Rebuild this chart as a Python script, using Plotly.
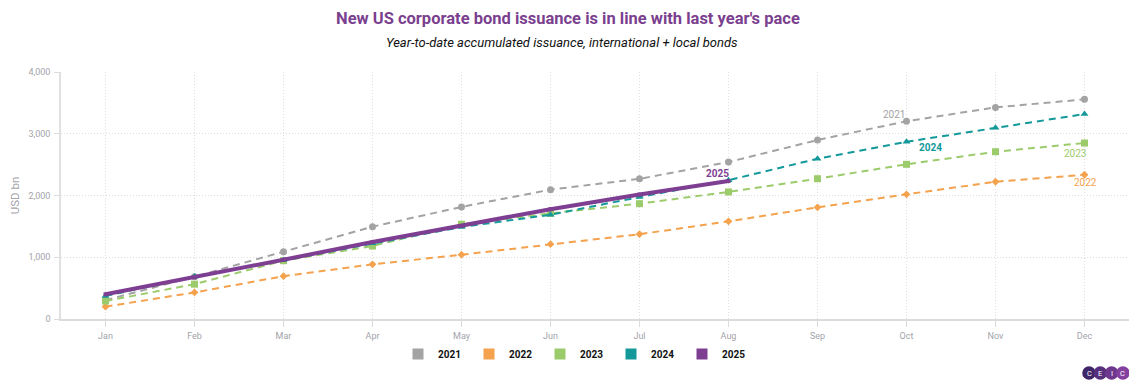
import plotly.graph_objects as go

months = ["Jan", "Feb", "Mar", "Apr", "May", "Jun", "Jul", "Aug", "Sep", "Oct", "Nov", "Dec"]
y2021 = [305, 685, 1090, 1495, 1815, 2095, 2270, 2542, 2898, 3203, 3427, 3557]
y2022 = [200, 430, 694, 885, 1041, 1211, 1373, 1581, 1808, 2019, 2223, 2336]
y2023 = [290, 564, 944, 1182, 1535, 1711, 1868, 2058, 2272, 2505, 2709, 2850]
y2024 = [372, 690, 950, 1225, 1490, 1688, 1975, 2248, 2595, 2870, 3097, 3319]
y2025 = [400, 675, 960, 1248, 1506, 1778, 2015, 2235]

years = ["2021", "2022", "2023", "2024", "2025"]
colors = {"2021": "#a3a3a3", "2022": "#f4a24d", "2023": "#9ccb6b",
          "2024": "#14999a", "2025": "#7e3f93"}
series = {"2021": y2021, "2022": y2022, "2023": y2023, "2024": y2024, "2025": y2025}
symbols = {"2021": "circle", "2022": "diamond", "2023": "square",
           "2024": "triangle-up", "2025": "square"}
msize = {"2021": 7, "2022": 6, "2023": 7, "2024": 7, "2025": 4}

FONT = "Roboto"
# page body has an 8px default margin: figure is drawn 8px right/down
OFF = 8
W, H = 1137 - OFF, 389 - OFF
PL, PR, PT, PB = 61, 1129, 72, 319  # target plot box in page pixels

fig = go.Figure()

for yr in years:
    vals = series[yr]
    solid = yr == "2025"
    fig.add_trace(go.Scatter(
        x=months[:len(vals)], y=vals, name=yr, mode="lines+markers",
        line=dict(color=colors[yr], width=4 if solid else 2,
                  dash="solid" if solid else "7px,5px"),
        marker=dict(symbol=symbols[yr], size=msize[yr], color=colors[yr]),
        showlegend=False, legendgroup=yr, hoverinfo="x+y+name"))

# legend entries (square swatches)
for yr in years:
    fig.add_trace(go.Scatter(
        x=[None], y=[None], name=yr, mode="markers",
        marker=dict(symbol="square", size=11, color=colors[yr],
                    line=dict(color=colors[yr], width=0)),
        legendgroup=yr, showlegend=True))

# series end labels
labels = [
    ("2021", 9, -13, 7, False),
    ("2024", 9, 24, -6, True),
    ("2023", 11, -10, -10, False),
    ("2022", 11, 1, -8, False),
    ("2025", 7, -11, 7, True),
]
for yr, idx, xs, ys, bold in labels:
    txt = f"<b>{yr}</b>" if bold else yr
    fig.add_annotation(x=months[idx], y=series[yr][idx], text=txt, showarrow=False,
                       xshift=xs, yshift=ys,
                       font=dict(family=FONT, size=10, color=colors[yr]))

# titles
fig.add_annotation(xref="paper", yref="paper", x=(568 - PL) / (PR - PL), y=1.0,
                   xanchor="center", yanchor="bottom", yshift=42,
                   text="<b>New US corporate bond issuance is in line with last year's pace</b>",
                   showarrow=False, font=dict(family=FONT, size=16.5, color="#7b3f8f"))
fig.add_annotation(xref="paper", yref="paper", x=(562 - PL) / (PR - PL), y=1.0,
                   xanchor="center", yanchor="bottom", yshift=20,
                   text="<i>Year-to-date accumulated issuance, international + local bonds</i>",
                   showarrow=False, font=dict(family=FONT, size=13, color="#111111"))

# CEIC logo
logo_cols = ["#3f2668", "#56307c", "#6d378d", "#84409e"]
letters = ["C", "E", "I", "C"]
for i, (c, L) in enumerate(zip(logo_cols, letters)):
    cx = (1089 + i * 11.3 - PL) / (PR - PL)
    cy = (PB - 373) / (PB - PT)
    fig.add_shape(type="circle", xref="paper", yref="paper",
                  xsizemode="pixel", ysizemode="pixel", xanchor=cx, yanchor=cy,
                  x0=-6.8, x1=6.8, y0=-6.8, y1=6.8,
                  fillcolor=c, line=dict(width=0), layer="above")
    fig.add_annotation(xref="paper", yref="paper", x=cx, y=cy, text=L, showarrow=False,
                       font=dict(family=FONT, size=7.5, color="white"),
                       xanchor="center", yanchor="middle")

fig.update_layout(
    width=W, height=H,
    margin=dict(l=PL - OFF, r=W - (PR - OFF), t=PT - OFF, b=H - (PB - OFF)),
    paper_bgcolor="white", plot_bgcolor="white",
    font=dict(family=FONT, color="#a0a0a8"),
    legend=dict(orientation="h", x=(398 - PL) / (PR - PL), xanchor="left",
                y=(PB - 354) / (PB - PT), yanchor="middle",
                entrywidth=26, entrywidthmode="pixels", bgcolor="rgba(0,0,0,0)",
                font=dict(family=FONT, size=10, color="#111111", weight="bold"),
                itemclick=False, itemdoubleclick=False),
    xaxis=dict(type="category", categoryorder="array", categoryarray=months,
               range=[-0.5, 11.5], showgrid=True, gridcolor="#dedede",
               griddash="1px,2px", gridwidth=1, automargin=False,
               showline=True, linecolor="#dcdcdc", linewidth=2,
               ticks="outside", ticklen=6, tickcolor="#dcdcdc",
               ticklabelstandoff=1,
               tickfont=dict(family=FONT, size=9, color="#a3a3ab"), zeroline=False),
    yaxis=dict(range=[0, 4000], tickvals=[0, 1000, 2000, 3000, 4000],
               tickformat=",", showgrid=True, gridcolor="#dedede",
               griddash="1px,2px", gridwidth=1, automargin=False,
               showline=True, linecolor="#e0e0e0", linewidth=1.5, mirror=True,
               ticks="outside", ticklen=5, tickcolor="#dcdcdc", ticklabelstandoff=2,
               tickfont=dict(family=FONT, size=9, color="#a3a3ab"), zeroline=False,
               title=dict(text="USD bn", font=dict(family=FONT, size=11.5, color="#a3a3ab"),
                          standoff=8)),
)

fig.write_html("out.html")
